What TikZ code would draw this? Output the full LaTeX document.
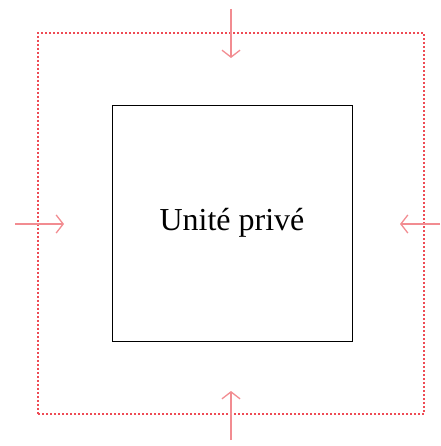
\documentclass[tikz,border=0pt]{standalone}
\usepackage{fontspec}
\setmainfont{Liberation Serif}
\usetikzlibrary{arrows.meta}
\definecolor{lightred}{RGB}{242,140,145}
\definecolor{dotred}{RGB}{238,75,85}
\begin{document}
\begin{tikzpicture}[x=1pt,y=-1pt]
  \tikzstyle{every node}=[inner sep=0pt]
  \tikzstyle{frame}=[draw=dotred,line width=2.4pt,dash pattern=on 2pt off 2pt]
  \tikzstyle{unit}=[draw,line width=0.8pt,minimum width=240pt,minimum height=236pt,font=\fontsize{32}{38}\selectfont]
  \tikzstyle{push}=[draw=lightred,line width=1.3pt,-{Straight Barb[length=7pt,width=18pt]}]
  \useasboundingbox (0,0) rectangle (440,446);
  \node[frame,minimum width=386pt,minimum height=381pt] (outer) at (231,223.5) {};
  \node[unit] (unite) at (232,223) {Unité privé};
  \coordinate (n1) at (231,9);    \coordinate (n2) at (231,58);
  \coordinate (s1) at (231,440);  \coordinate (s2) at (231,391);
  \coordinate (w1) at (15,224);   \coordinate (w2) at (64,224);
  \coordinate (e1) at (440,224);  \coordinate (e2) at (400,224);
  \draw[push] (n1) -- (n2);
  \draw[push] (s1) -- (s2);
  \draw[push] (w1) -- (w2);
  \draw[push] (e1) -- (e2);
\end{tikzpicture}
\end{document}
